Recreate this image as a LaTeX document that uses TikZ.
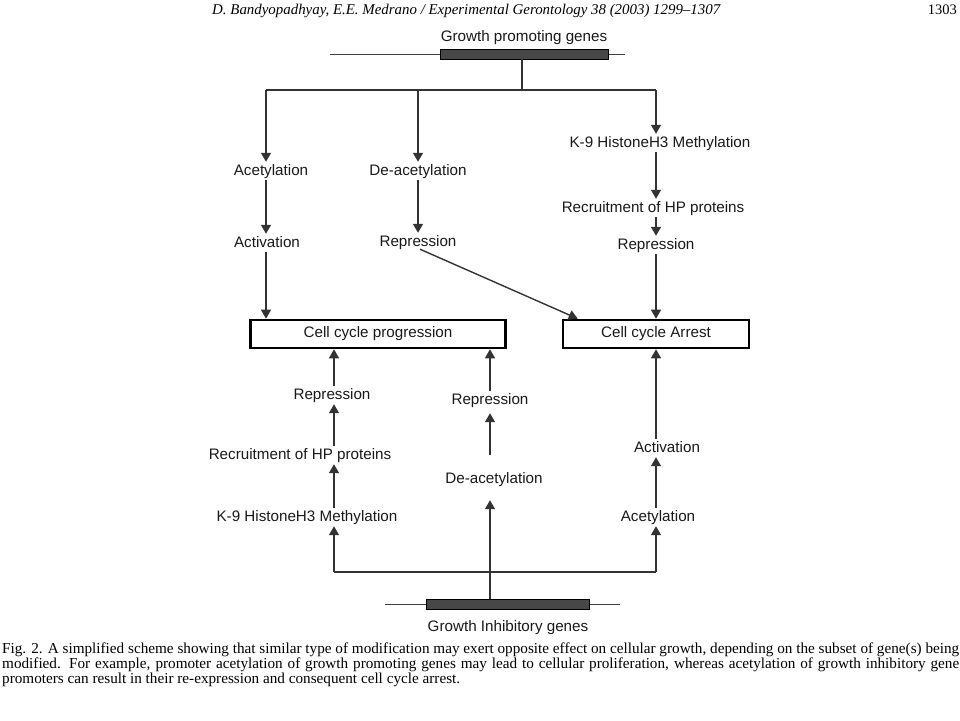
\documentclass[tikz,border=0pt]{standalone}
\usepackage{fontspec}
\setmainfont{Liberation Serif}
\setsansfont{Liberation Sans}
\usetikzlibrary{arrows.meta,calc}
\begin{document}
\begin{tikzpicture}[x=1pt,y=-1pt,
  lbl/.style={font=\sffamily\fontsize{15.2}{17}\selectfont, text height=11pt, text depth=3pt, inner xsep=1pt, inner ysep=2pt, text=black!90},
  arr/.style={draw=black!80, line width=1.4pt, -{Triangle[width=10pt,length=9pt]}},
  ln/.style={draw=black!80, line width=1.4pt},
  gline/.style={draw=black!75, line width=1pt},
  cbox/.style={draw=black, line width=2.6pt, minimum height=28pt, inner sep=0pt, font=\sffamily\fontsize{15.2}{17}\selectfont, text=black!90},
  genebar/.style={draw=black, fill=black!72, line width=0.8pt, inner sep=0pt, minimum height=10pt},
]
\useasboundingbox (0,0) rectangle (960,720);
% header
\node[anchor=base west, inner sep=0pt, font=\itshape\fontsize{14.9}{16}\selectfont] (hdr) at (212,14) {D. Bandyopadhyay, E.E. Medrano / Experimental Gerontology 38 (2003) 1299–1307};
\node[anchor=base east, inner sep=0pt, font=\fontsize{14.5}{16}\selectfont] (pg) at (957,14) {1303};

% top gene
\node[lbl] (gp) at (524,37) {Growth promoting genes};
\coordinate (gpl) at (330,54);
\coordinate (gpr) at (625,54);
\draw[gline] (gpl) -- (gpr);
\node[genebar, minimum width=168pt] (gpbar) at (524,54) {};
\coordinate (j) at (522,90);
\coordinate (b1) at (266,90);
\coordinate (b2) at (418,90);
\coordinate (b3) at (656,90);
\draw[ln] (gpbar.south -| j) -- (j);
\draw[ln] (b1) -- (b3);

% boxes
\node[cbox, minimum width=255pt] (prog) at (378,334) {Cell cycle progression};
\node[cbox, minimum width=186pt] (arrest) at (656,334) {Cell cycle Arrest};

% top column 1
\node[lbl] (acet1) at (271,171) {Acetylation};
\node[lbl] (act1) at (267,243) {Activation};
\draw[arr] (b1) -- (b1 |- acet1.north);
\draw[arr] (acet1.south -| b1) -- (act1.north -| b1);
\draw[arr] (act1.south -| b1) -- (prog.north -| b1);

% top column 2
\node[lbl] (deac1) at (418,171) {De-acetylation};
\node[lbl] (rep1) at (418,242) {Repression};
\draw[arr] (b2) -- (b2 |- deac1.north);
\draw[arr] (deac1.south -| b2) -- (rep1.north -| b2);
\draw[arr] ($(rep1.south)+(2,-2)$) -- ($(arrest.north west)+(16,0)$);

% top column 3
\node[lbl] (k91) at (660,143) {K-9 HistoneH3 Methylation};
\node[lbl] (rec1) at (653,208) {Recruitment of HP proteins};
\node[lbl] (rep2) at (656,245) {Repression};
\draw[arr] (b3) -- (b3 |- k91.north);
\draw[arr] (k91.south -| b3) -- (rec1.north -| b3);
\draw[arr] (rec1.south -| b3) -- (rep2.north -| b3);
\draw[arr] (rep2.south -| b3) -- (arrest.north -| b3);

% bottom gene
\coordinate (igl) at (385,604);
\coordinate (igr) at (620,604);
\draw[gline] (igl) -- (igr);
\node[genebar, minimum width=163pt] (ibar) at (508,604) {};
\node[lbl] (ig) at (508,627) {Growth Inhibitory genes};
\coordinate (cL) at (334,572);
\coordinate (cR) at (656,572);
\coordinate (mcol) at (490,572);
\draw[ln] (cL) -- (cR);

% bottom left column
\node[lbl] (rep3) at (332,395) {Repression};
\node[lbl] (rec2) at (300,455) {Recruitment of HP proteins};
\node[lbl] (k92) at (307,517) {K-9 HistoneH3 Methylation};
\draw[arr] (cL) -- (cL |- k92.south);
\draw[arr] (k92.north -| cL) -- (rec2.south -| cL);
\draw[arr] (rec2.north -| cL) -- (rep3.south -| cL);
\draw[arr] (rep3.north -| cL) -- (prog.south -| cL);

% bottom middle column
\node[lbl] (rep4) at (490,400) {Repression};
\node[lbl] (deac2) at (494,479) {De-acetylation};
\draw[arr, shorten >=12pt] (ibar.north -| mcol) -- (deac2.south -| mcol);
\draw[arr, shorten <=15pt, shorten >=4pt] (deac2.north -| mcol) -- (rep4.south -| mcol);
\draw[arr] (rep4.north -| mcol) -- (prog.south -| mcol);

% bottom right column
\node[lbl] (act2) at (667,448) {Activation};
\node[lbl] (acet2) at (658,517) {Acetylation};
\draw[arr] (cR) -- (cR |- acet2.south);
\draw[arr] (acet2.north -| cR) -- (act2.south -| cR);
\draw[arr] (act2.north -| cR) -- (arrest.south -| cR);

% caption
\node[anchor=north west, inner sep=0pt, text width=957pt, align=justify, font=\fontsize{15.2}{13.8}\selectfont] (cap) at (2,643) {Fig. 2. A simplified scheme showing that similar type of modification may exert opposite effect on cellular growth, depending on the subset of gene(s) being\linebreak modified. For example, promoter acetylation of growth promoting genes may lead to cellular proliferation, whereas acetylation of growth inhibitory gene\linebreak promoters can result in their re-expression and consequent cell cycle arrest.};
\end{tikzpicture}
\end{document}
